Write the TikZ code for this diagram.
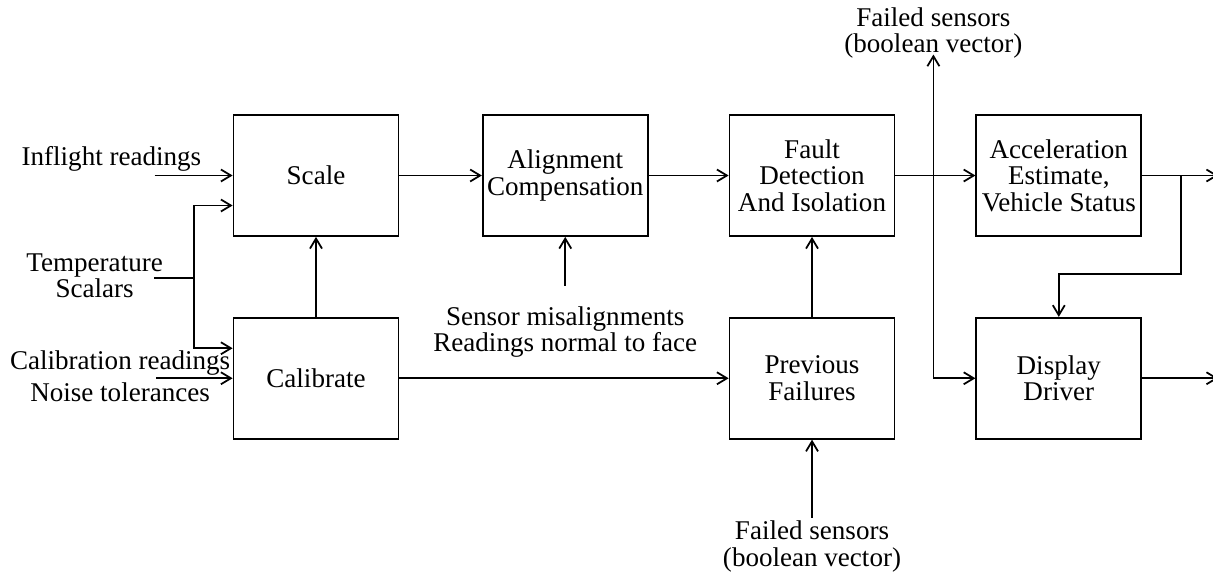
\documentclass[tikz,border=0pt]{standalone}
\usepackage{fontspec}
\setmainfont{Liberation Serif}
\usetikzlibrary{arrows.meta,calc,positioning}

\begin{document}
\begin{tikzpicture}[
		>={Straight Barb[length=2mm,width=2.4mm]},
		line width=1pt,
		font=\fontsize{15.4}{15}\selectfont,
		blk/.style={
			draw, line width=1pt, inner sep=0.5mm,
			minimum width=33mm, minimum height=24.2mm, align=center
		},
		lbl/.style={inner sep=0.5mm, align=center}
		]
		% ---- Rahmen (Seitenverhaeltnis der Vorlage)
		\useasboundingbox (-63.2mm,35.1mm) rectangle (179.4mm,-79.1mm);
		
		% ---- obere Reihe
		\node[blk]                         (scale)  {Scale};
		\node[blk, right=16.5mm of scale]  (alcomp) {Alignment\\Compensation};
		\node[blk, right=16mm of alcomp]   (fault)  {Fault\\Detection\\And Isolation};
		\node[blk, right=16mm of fault]    (acc)    {Acceleration\\Estimate,\\Vehicle Status};
		
		% ---- untere Reihe
		\node[blk, below=16mm of scale]    (calib)  {Calibrate};
		\node[blk, below=16mm of fault]    (prev)   {Previous\\Failures};
		\node[blk, below=16mm of acc]      (disp)   {Display\\Driver};
		
		% ---- Eingaenge links
		\coordinate (inftail) at ([xshift=-15.6mm]scale.west);
		\coordinate (caltail) at ([xshift=-15.3mm]calib.west);
		\coordinate (tjoin)   at ([xshift=-7.7mm,yshift=-20.5mm]scale.west);
		\coordinate (tstub)   at ([xshift=-8mm]tjoin);
		\node[lbl, anchor=base east] (inflight) at ([xshift=-5.6mm,yshift=2.1mm]scale.west) {Inflight readings};
		\node[lbl] (temp) at ([xshift=-19.9mm,yshift=0.4mm]tjoin) {Temperature\\Scalars};
		\node[lbl, anchor=base] (calread) at ([xshift=-22.5mm,yshift=1.7mm]calib.west) {Calibration readings};
		\node[lbl, anchor=base] (noise)   at ([xshift=-22.5mm,yshift=-4.7mm]calib.west) {Noise tolerances};
		
		% ---- Eingaenge unten / Ausgaenge oben und rechts
		\node[lbl, below=13.3mm of alcomp] (misalign) {Sensor misalignments\\Readings normal to face};
		\node[lbl, below=15.6mm of prev]   (failbot)  {Failed sensors\\(boolean vector)};
		\coordinate (fsplit) at ([xshift=7.6mm]fault.east);
		\coordinate (fstip)  at ([yshift=24.2mm]fsplit);
		\node[lbl, above=22.7mm of fsplit] (failtop)  {Failed sensors\\(boolean vector)};
		\coordinate (accsplit) at ([xshift=7.8mm]acc.east);
		\coordinate (accout)   at ([xshift=15.2mm]acc.east);
		\coordinate (dispout)  at ([xshift=15.2mm]disp.east);
		
		% ---- Pfeile
		\draw[->] (inftail) -- (scale);
		\draw (tstub) -- (tjoin);
		\draw[->] (tjoin) |- ([yshift=-6mm]scale.west);
		\draw[->] (tjoin) |- ([yshift=6mm]calib.west);
		\draw[->] (caltail) -- (calib);
		\draw[->] (calib) -- (scale);
		\draw[->] (scale) -- (alcomp);
		\draw[->] (alcomp) -- (fault);
		\draw[->, shorten <=3.5mm] (misalign) -- (alcomp);
		\draw[->] (calib) -- (prev);
		\draw[->] (prev) -- (fault);
		\draw[->] (failbot) -- (prev);
		\draw[->] (fault) -- (acc);
		\draw[->] (fsplit) -- (fstip);
		\draw[->] (fsplit) |- (disp);
		\draw[->] (acc) -- (accout);
		\draw[->] (accsplit) |- ([yshift=8.6mm]disp.north) -| (disp);
		\draw[->] (disp) -- (dispout);
	\end{tikzpicture}
\end{document}
